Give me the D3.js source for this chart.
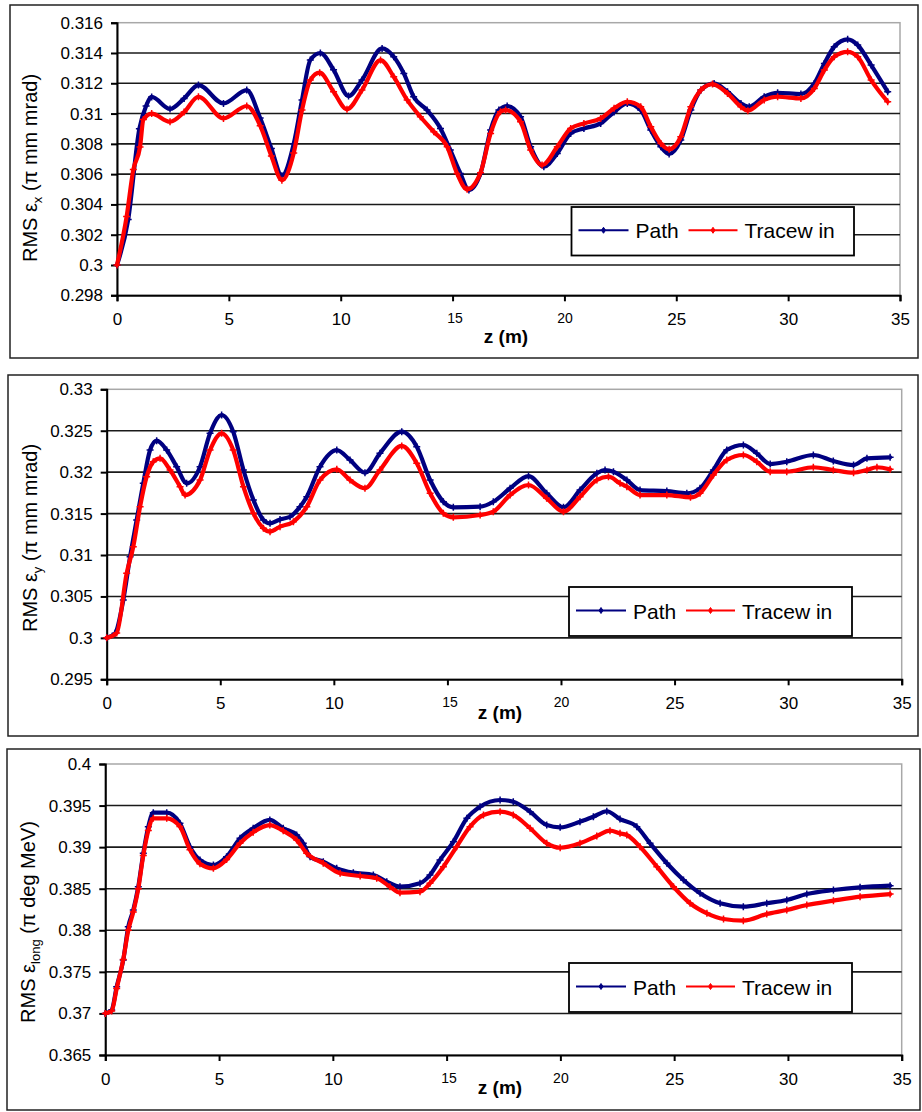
<!DOCTYPE html>
<html><head><meta charset="utf-8">
<script src="https://cdn.jsdelivr.net/npm/d3@7/dist/d3.min.js"></script>
<style>
html,body{margin:0;padding:0;background:#fff;}
svg{display:block;}
text{font-family:Arial,"Liberation Sans",sans-serif;fill:#000;}
</style></head>
<body>
<svg id="chart" width="922" height="1112"></svg>
<script>
// ---------- DATA ----------
const xTicks = [0, 5, 10, 15, 20, 25, 30, 35];
const seriesNames = ["Path", "Tracew in"];

// Panel 1 : RMS emittance x
const yTicks1 = [0.298, 0.300, 0.302, 0.304, 0.306, 0.308, 0.310, 0.312, 0.314, 0.316];
const z1Path = [0,0.5,1.0,1.3,1.55,2.37,3.0,3.64,4.76,5.8,6.4,6.9,7.37,7.9,8.27,8.64,9.09,9.68,10.35,10.95,11.85,12.37,12.82,13.26,13.86,14.46,14.9,15.35,15.73,16.25,16.7,17.07,17.44,18.04,18.49,19.08,19.68,20.28,20.87,21.62,22.22,22.81,23.41,23.86,24.31,24.68,25.2,25.65,26.1,26.69,27.29,27.89,28.26,28.93,29.53,30.57,31.17,31.62,32.06,32.66,33.11,33.71,34.45];
const v1Path = [0.3000,0.3030,0.3090,0.3105,0.3111,0.3103,0.3110,0.31188,0.31067,0.31155,0.3097,0.3077,0.3059,0.3080,0.3109,0.31353,0.3140,0.31289,0.31116,0.31221,0.3143,0.31375,0.31265,0.31111,0.31023,0.30902,0.30759,0.30605,0.30495,0.30605,0.30891,0.31023,0.3105,0.30979,0.30781,0.30649,0.30737,0.30869,0.30902,0.30935,0.3101,0.31067,0.31023,0.30891,0.30781,0.30733,0.30825,0.31023,0.31155,0.31199,0.31144,0.31067,0.31045,0.31111,0.31137,0.31129,0.31199,0.31331,0.31441,0.3149,0.31452,0.3132,0.31144];
const z1Trace = [0,0.43,0.73,1.03,1.18,1.55,2.37,3.0,3.64,4.76,5.8,6.4,6.9,7.37,7.9,8.27,8.64,9.06,9.68,10.28,10.95,11.78,12.37,12.97,13.56,14.16,14.76,15.2,15.65,16.25,16.7,17.14,17.37,18.04,18.49,19.0,19.68,20.28,20.87,21.62,22.22,22.81,23.41,23.86,24.31,24.68,25.2,25.65,26.1,26.62,27.29,27.89,28.2,28.93,29.53,30.57,31.17,31.62,32.06,32.66,33.11,33.71,34.45];
const v1Trace = [0.3000,0.3032,0.3063,0.3078,0.3096,0.3100,0.30946,0.3101,0.31111,0.30968,0.3105,0.3092,0.3072,0.3056,0.3074,0.31023,0.31221,0.3127,0.31144,0.31028,0.31155,0.31353,0.31243,0.3109,0.30979,0.3088,0.30781,0.30605,0.3050,0.3061,0.30869,0.31012,0.31023,0.30946,0.30759,0.3066,0.30781,0.30902,0.30935,0.30968,0.31035,0.31078,0.31045,0.30913,0.30803,0.30764,0.30847,0.31045,0.31155,0.31195,0.31133,0.31045,0.31019,0.3109,0.31111,0.3110,0.31166,0.31287,0.31375,0.31408,0.31375,0.31221,0.31078];

// Panel 2 : RMS emittance y
const yTicks2 = [0.295, 0.300, 0.305, 0.310, 0.315, 0.320, 0.325, 0.330];
const z2Path = [0,0.37,0.73,1.03,1.32,1.61,1.91,2.2,2.64,3.08,3.52,4.11,4.55,5.06,5.57,6.02,6.46,6.9,7.19,7.63,8.07,8.51,8.81,9.39,10.13,10.71,11.37,12.03,12.99,13.65,14.24,14.82,15.26,16.44,17.02,17.76,18.57,19.37,20.11,20.84,21.58,21.94,22.31,22.9,23.48,24.66,25.54,26.12,26.71,27.3,28.03,28.62,29.21,29.94,31.11,31.99,32.88,33.47,34.49];
const v2Path = [0.3000,0.30055,0.30457,0.3098,0.31423,0.31865,0.32267,0.3238,0.32267,0.32066,0.31865,0.32066,0.32469,0.3269,0.32488,0.32026,0.31664,0.31423,0.31383,0.3143,0.31462,0.31583,0.31704,0.32066,0.32267,0.32147,0.31994,0.32227,0.32488,0.32307,0.31905,0.31643,0.31576,0.31583,0.31643,0.31805,0.31953,0.31745,0.31576,0.31784,0.31986,0.32026,0.32006,0.31905,0.31784,0.31772,0.31745,0.31805,0.32026,0.32267,0.32328,0.32227,0.32098,0.32126,0.32207,0.32135,0.32086,0.32167,0.32179];
const z2Trace = [0,0.44,0.88,1.17,1.47,1.76,2.05,2.35,2.79,3.23,3.45,4.11,4.55,5.06,5.57,6.02,6.46,6.9,7.19,7.63,8.22,8.81,9.39,10.13,10.71,11.37,12.03,12.99,13.65,14.24,14.82,15.26,16.44,17.02,17.76,18.57,19.37,20.11,20.84,21.58,22.09,22.6,22.9,23.48,24.66,25.7,26.12,26.71,27.3,28.03,28.62,29.21,29.94,31.11,31.99,32.88,33.47,33.91,34.49];
const v2Trace = [0.3000,0.3006,0.3078,0.3110,0.31583,0.31945,0.32126,0.32167,0.32026,0.31825,0.31724,0.31905,0.32267,0.32469,0.32267,0.31825,0.31503,0.31322,0.31282,0.31342,0.31402,0.31583,0.31905,0.32034,0.31905,0.31805,0.32026,0.32316,0.32107,0.31745,0.31503,0.31455,0.31483,0.31523,0.31724,0.31845,0.31684,0.31523,0.31704,0.31905,0.31945,0.31865,0.31825,0.31724,0.31724,0.31696,0.31745,0.31966,0.32147,0.32207,0.32126,0.32006,0.32006,0.32059,0.32026,0.31994,0.32026,0.32059,0.32034];

// Panel 3 : RMS longitudinal emittance
const yTicks3 = [0.365, 0.370, 0.375, 0.380, 0.385, 0.390, 0.395, 0.400];
const z3Path = [0,0.28,0.5,0.79,1.01,1.23,1.45,1.67,1.89,2.11,2.7,3.28,3.72,4.16,4.75,5.33,5.92,6.5,7.23,7.82,8.41,8.7,9.0,9.58,10.17,10.9,11.78,12.37,12.95,13.83,14.27,14.71,15.3,15.89,16.47,17.35,17.93,18.67,19.4,19.99,20.86,21.45,22.04,22.62,23.36,23.94,24.68,25.41,26.14,27.02,28.04,29.07,29.95,30.83,32.0,33.17,34.49];
const v3Path = [0.3700,0.3704,0.37321,0.37643,0.38043,0.38244,0.38524,0.38926,0.39246,0.39414,0.39414,0.39287,0.39005,0.38845,0.38785,0.38885,0.39106,0.39227,0.39327,0.39227,0.39146,0.39046,0.38885,0.38825,0.38745,0.38693,0.38665,0.38585,0.38524,0.38565,0.38665,0.38845,0.39066,0.39347,0.39487,0.39567,0.39547,0.39426,0.39266,0.39238,0.39306,0.39366,0.39432,0.39337,0.39246,0.39046,0.38806,0.38605,0.38445,0.38325,0.38284,0.38325,0.38364,0.38436,0.38485,0.38517,0.38536];
const z3Trace = [0,0.28,0.5,0.79,1.01,1.23,1.45,1.67,1.89,2.11,2.7,3.28,3.72,4.16,4.75,5.33,5.92,6.5,7.23,7.82,8.41,8.85,9.58,10.32,11.2,11.93,12.51,12.95,13.83,14.27,14.86,15.44,16.03,16.62,17.35,17.93,18.67,19.4,19.99,20.86,21.6,22.18,22.62,22.92,23.5,24.24,24.97,25.7,26.44,27.17,28.04,29.07,29.95,30.83,32.0,33.17,34.49];
const v3Trace = [0.3700,0.3703,0.3730,0.3765,0.3800,0.3822,0.3850,0.3890,0.3920,0.39347,0.39347,0.39247,0.3897,0.3880,0.38745,0.3885,0.39046,0.3918,0.39266,0.39196,0.39086,0.38926,0.38806,0.38685,0.38653,0.38625,0.38524,0.38452,0.38464,0.38565,0.38765,0.39005,0.39246,0.39387,0.39426,0.39387,0.39227,0.39046,0.38993,0.39046,0.39134,0.39198,0.39166,0.39146,0.39005,0.38765,0.38524,0.38325,0.38204,0.38136,0.38116,0.38196,0.38244,0.38304,0.38356,0.38404,0.38436];

// ---------- LAYOUT ----------
const colors = ["#000080", "#ff0000"];
const panels = [
  { frame:[10,5,918,358], plot:{l:117,r:900,t:22.7,b:295.3}, yTicks:yTicks1,
    series:[[z1Path,v1Path],[z1Trace,v1Trace]], sub:"x", unit:" (π mm mrad)",
    title:{x:37,y:168}, legend:{x:571.5,y:207,w:282.5,h:48.5}, zlab:{x:506,y:343} },
  { frame:[8,375,918,736], plot:{l:106.7,r:901.7,t:389.3,b:679.3}, yTicks:yTicks2,
    series:[[z2Path,v2Path],[z2Trace,v2Trace]], sub:"y", unit:" (π mm mrad)",
    title:{x:37,y:538}, legend:{x:569,y:587,w:283,h:49}, zlab:{x:500,y:719} },
  { frame:[7,749,920,1110], plot:{l:105.3,r:901.7,t:764,b:1055}, yTicks:yTicks3,
    series:[[z3Path,v3Path],[z3Trace,v3Trace]], sub:"long", unit:" (π deg MeV)",
    title:{x:35,y:922}, legend:{x:569,y:963,w:283,h:49}, zlab:{x:500,y:1094} }
];

const svg = d3.select("#chart");
const fmt = v => String(+v.toFixed(3));

panels.forEach(p => {
  const g = svg.append("g");
  const [fx0, fy0, fx1, fy1] = p.frame;
  g.append("rect").attr("x", fx0).attr("y", fy0).attr("width", fx1 - fx0).attr("height", fy1 - fy0)
    .attr("fill", "#fff").attr("stroke", "#222").attr("stroke-width", 1.5);

  const x = d3.scaleLinear().domain([0, 35]).range([p.plot.l, p.plot.r]);
  const yd = d3.extent(p.yTicks);
  const y = d3.scaleLinear().domain(yd).range([p.plot.b, p.plot.t]);

  // plot area border (gray)
  g.append("rect").attr("x", p.plot.l).attr("y", p.plot.t)
    .attr("width", p.plot.r - p.plot.l).attr("height", p.plot.b - p.plot.t)
    .attr("fill", "none").attr("stroke", "#a8a8a8").attr("stroke-width", 1.5);

  // gridlines
  g.append("g").selectAll("line").data(p.yTicks.slice(1, -1)).join("line")
    .attr("x1", p.plot.l).attr("x2", p.plot.r)
    .attr("y1", d => y(d)).attr("y2", d => y(d))
    .attr("stroke", "#1a1a1a").attr("stroke-width", 1.6);

  // axes
  const yAxis = d3.axisLeft(y).tickValues(p.yTicks).tickFormat(fmt).tickSize(6).tickPadding(8);
  const ya = g.append("g").attr("transform", `translate(${p.plot.l},0)`).call(yAxis);
  ya.select(".domain").attr("stroke", "#000").attr("stroke-width", 2);
  ya.selectAll(".tick line").attr("stroke", "#000").attr("stroke-width", 2);
  ya.selectAll(".tick text").attr("font-size", 17).attr("font-family", "Arial, 'Liberation Sans', sans-serif").attr("fill", "#000");

  const xAxis = d3.axisBottom(x).tickValues(xTicks).tickFormat(d3.format("d")).tickSize(6).tickPadding(12);
  const xa = g.append("g").attr("transform", `translate(0,${p.plot.b})`).call(xAxis);
  xa.select(".domain").attr("stroke", "#000").attr("stroke-width", 2);
  xa.selectAll(".tick line").attr("stroke", "#000").attr("stroke-width", 2);
  xa.selectAll(".tick text").attr("font-family", "Arial, 'Liberation Sans', sans-serif").attr("fill", "#000")
    .attr("font-size", d => (d === 15 || d === 20) ? 14 : 17)
    .attr("dx", d => (d === 15) ? 2 : 0);

  // series
  const line = d3.line().x(d => x(d[0])).y(d => y(d[1])).curve(d3.curveMonotoneX);
  p.series.forEach((s, i) => {
    const pts = d3.zip(s[0], s[1]);
    g.append("path").datum(pts).attr("d", line)
      .attr("fill", "none").attr("stroke", colors[i]).attr("stroke-width", 4.2)
      .attr("stroke-linejoin", "round").attr("stroke-linecap", "round");
    g.append("g").selectAll("path").data(pts).join("path")
      .attr("d", d => { const cx = x(d[0]), cy = y(d[1]); return `M${cx-3.5},${cy}h7M${cx},${cy-3.5}v7`; })
      .attr("stroke", colors[i]).attr("stroke-width", 1.5);
  });

  // y title
  const t = g.append("text").attr("transform", `translate(${p.title.x},${p.title.y}) rotate(-90)`)
    .attr("text-anchor", "middle").attr("font-size", 20);
  t.append("tspan").text("RMS ε");
  t.append("tspan").attr("font-size", 13).attr("dy", 5).text(p.sub);
  t.append("tspan").attr("dy", -5).text(p.unit);

  // x title
  g.append("text").attr("x", p.zlab.x).attr("y", p.zlab.y).attr("text-anchor", "middle")
    .attr("font-size", 19).attr("font-weight", "bold").text("z (m)");

  // legend
  const L = p.legend;
  const lg = g.append("g").attr("transform", `translate(${L.x},${L.y})`);
  lg.append("rect").attr("width", L.w).attr("height", L.h).attr("fill", "#fff")
    .attr("stroke", "#000").attr("stroke-width", 1.8);
  const items = [{x0: 7, x1: 57, tx: 64}, {x0: 117, x1: 166, tx: 173}];
  seriesNames.forEach((name, i) => {
    const it = items[i], cy = L.h / 2 - 1;
    lg.append("line").attr("x1", it.x0).attr("x2", it.x1).attr("y1", cy).attr("y2", cy)
      .attr("stroke", colors[i]).attr("stroke-width", 2);
    const mx = (it.x0 + it.x1) / 2;
    lg.append("path").attr("d", `M${mx},${cy-3}l2,3l-2,3l-2,-3z`).attr("fill", colors[i]).attr("stroke", colors[i]);
    lg.append("text").attr("x", it.tx).attr("y", cy + 8).attr("font-size", 21).text(name);
  });
});
</script>
</body></html>
